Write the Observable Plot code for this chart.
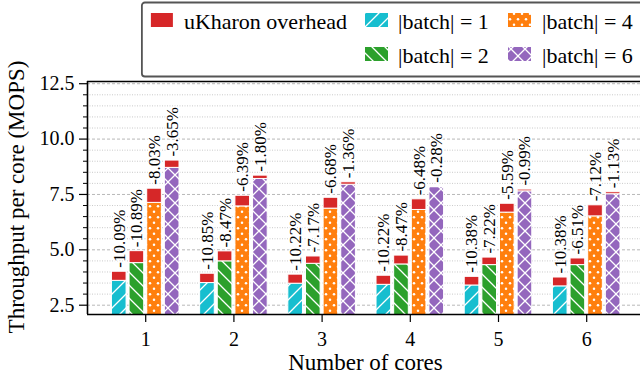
<!DOCTYPE html>
<html><head><meta charset="utf-8">
<script src="https://cdn.jsdelivr.net/npm/d3@7"></script>
<script src="https://cdn.jsdelivr.net/npm/@observablehq/plot@0.6"></script>
<style>
html,body{margin:0;padding:0;background:white;}
#wrap{position:relative;width:640px;height:381px;overflow:hidden;}
</style></head><body><div id="wrap"></div>
<script>
// ---- data ----
const cores = [1, 2, 3, 4, 5, 6];
const batchNames = ["|batch| = 1", "|batch| = 2", "|batch| = 4", "|batch| = 6"];
const batchColors = ["#17becf", "#2ca02c", "#ff7f0e", "#9467bd"];
const overheadName = "uKharon overhead";
const overheadColor = "#d62728";
// throughput without uKharon (top of red segment)
const nativeB1 = [4.01, 3.92, 3.88, 3.83, 3.78, 3.75];
const nativeB2 = [4.94, 4.93, 4.70, 4.74, 4.65, 4.61];
const nativeB4 = [7.76, 7.44, 7.35, 7.28, 7.08, 7.01];
const nativeB6 = [9.03, 8.35, 8.05, 7.85, 7.72, 7.60];
// throughput with uKharon (top of hatched bar)
const ukharonB1 = [3.60, 3.50, 3.47, 3.42, 3.39, 3.35];
const ukharonB2 = [4.40, 4.48, 4.37, 4.34, 4.31, 4.31];
const ukharonB4 = [7.12, 6.96, 6.86, 6.80, 6.68, 6.51];
const ukharonB6 = [8.70, 8.20, 7.94, 7.83, 7.64, 7.51];
// overhead labels
const dropB1 = ["-10.09%", "-10.85%", "-10.22%", "-10.22%", "-10.38%", "-10.38%"];
const dropB2 = ["-10.89%", "-8.47%", "-7.17%", "-8.47%", "-7.22%", "-6.51%"];
const dropB4 = ["-8.03%", "-6.39%", "-6.68%", "-6.48%", "-5.59%", "-7.12%"];
const dropB6 = ["-3.65%", "-1.80%", "-1.36%", "-0.28%", "-0.99%", "-1.13%"];
const yMajorTicks = [2.5, 5.0, 7.5, 10.0, 12.5];
const yMinorTicks = [3, 3.5, 4, 4.5, 5.5, 6, 6.5, 7, 8, 8.5, 9, 9.5, 10.5, 11, 11.5, 12];
const yTitle = "Throughput per core (MOPS)";
const xTitle = "Number of cores";

// ---- table ----
const natives = [nativeB1, nativeB2, nativeB4, nativeB6];
const ukharons = [ukharonB1, ukharonB2, ukharonB4, ukharonB6];
const drops = [dropB1, dropB2, dropB4, dropB6];
const rows = [];
batchNames.forEach((b, j) => cores.forEach((c, i) => rows.push({
  core: c, batch: b, j, native: natives[j][i], ukharon: ukharons[j][i], drop: drops[j][i]
})));
const slot = 0.2;
const xc = d => d.core + (d.j - 1.5) * slot;
const x1 = d => xc(d) - slot / 2;
const x2 = d => xc(d) + slot / 2;
const xDomain = [0.34, 6.61];
const yDomain = [2.08, 12.6];
const FONT = "'Liberation Serif', 'Times New Roman', serif";

const plot = Plot.plot({
  width: 640, height: 381,
  marginTop: 81, marginBottom: 67, marginLeft: 87, marginRight: 0,
  style: {fontFamily: FONT, fontSize: "20px", color: "black", background: "white"},
  x: {type: "linear", domain: xDomain},
  y: {domain: yDomain},
  marks: [
    Plot.gridY(yMinorTicks, {stroke: "#c4c4c4", strokeOpacity: 1, strokeDasharray: "1,1.5", strokeWidth: 0.9}),
    Plot.gridY(yMajorTicks, {stroke: "#b0b0b0", strokeOpacity: 1, strokeDasharray: "3,2", strokeWidth: 0.9}),
    ...batchNames.map((b, j) => Plot.rectY(rows.filter(d => d.j === j), {
      x1, x2, y1: 0, y2: "ukharon", fill: `url(#hatch${j})`, stroke: "white", strokeWidth: 1,
      insetLeft: 1.5, insetRight: 1.5, clip: true
    })),
    Plot.rectY(rows, {x1, x2, y1: "ukharon", y2: "native", fill: overheadColor, stroke: "white", strokeWidth: 1,
      insetLeft: 1.5, insetRight: 1.5}),
    Plot.text(rows, {x: xc, y: "native", text: "drop", rotate: -90, textAnchor: "start", dy: -4,
      fontSize: 17, fill: "black", stroke: "white", strokeWidth: 3, paintOrder: "stroke"}),
    Plot.axisY(yMajorTicks, {tickSize: 8, tickPadding: 5, tickFormat: d3.format(".1f"), fontSize: 20, label: null, strokeWidth: 1.2}),
    Plot.axisY(yMinorTicks, {tickSize: 4, tickFormat: () => "", label: null, strokeWidth: 1}),
    Plot.axisX(cores, {tickSize: 8, tickPadding: 9, fontSize: 20, label: null, strokeWidth: 1.2}),
    Plot.ruleX([xDomain[0]], {stroke: "black", strokeWidth: 1.6}),
    Plot.ruleY([yDomain[0]], {stroke: "black", strokeWidth: 1.6}),
    Plot.ruleY([yDomain[1]], {stroke: "black", strokeWidth: 1.6})
  ]
});

const defs = `
<pattern id="hatch0" patternUnits="userSpaceOnUse" width="14" height="14">
  <rect width="14" height="14" fill="${batchColors[0]}"/>
  <path d="M-2,2 L2,-2 M0,14 L14,0 M12,16 L16,12" stroke="white" stroke-width="1.3"/>
</pattern>
<pattern id="hatch1" patternUnits="userSpaceOnUse" width="13" height="13">
  <rect width="13" height="13" fill="${batchColors[1]}"/>
  <path d="M-2,11 L2,15 M0,0 L13,13 M11,-2 L15,2" stroke="white" stroke-width="1.3"/>
</pattern>
<pattern id="hatch2" patternUnits="userSpaceOnUse" width="8" height="11">
  <rect width="8" height="11" fill="${batchColors[2]}"/>
  <circle cx="2" cy="2.75" r="1.25" fill="white"/>
  <circle cx="6" cy="8.25" r="1.25" fill="white"/>
</pattern>
<pattern id="hatch3" patternUnits="userSpaceOnUse" width="14" height="14">
  <rect width="14" height="14" fill="${batchColors[3]}"/>
  <path d="M0,0 L14,14 M14,0 L0,14" stroke="white" stroke-width="1.3"/>
</pattern>`;
d3.select(plot).insert("defs", ":first-child").html(defs);

const svg = d3.select(plot);
svg.append("text").attr("transform", "translate(24,197) rotate(-90)").attr("text-anchor", "middle")
  .attr("font-size", 23).attr("fill", "black").text(yTitle);
svg.append("text").attr("x", 365.5).attr("y", 370).attr("text-anchor", "middle")
  .attr("font-size", 23).attr("fill", "black").text(xTitle);

const wrap = document.getElementById("wrap");
wrap.appendChild(plot);

// ---- legend ----
const leg = d3.select(wrap).append("svg").attr("width", 640).attr("height", 381)
  .style("position", "absolute").style("left", "0px").style("top", "0px")
  .style("font-family", FONT).style("pointer-events", "none");
const box = leg.append("rect").attr("y", 2.5).attr("width", 700).attr("height", 74).attr("rx", 3)
  .attr("fill", "white").attr("stroke", "#555").attr("stroke-width", 1.8);
const rowPatchY = [13, 47];
const rowTextY = [28.5, 62.5];
const items = [
  {name: overheadName, fill: overheadColor, col: 0, row: 0},
  {name: batchNames[0], fill: "url(#hatch0)", col: 1, row: 0},
  {name: batchNames[1], fill: "url(#hatch1)", col: 1, row: 1},
  {name: batchNames[2], fill: "url(#hatch2)", col: 2, row: 0},
  {name: batchNames[3], fill: "url(#hatch3)", col: 2, row: 1}
];
const colPatchX = [null, 365, 508];
const colTextX = [null, 398, 542];
let boxLeft = 139;
items.forEach(it => {
  if (it.col === 0) {
    const t = leg.append("text").attr("x", 347).attr("y", rowTextY[it.row]).attr("text-anchor", "end")
      .attr("font-size", 22).attr("fill", "black").text(it.name);
    const w = t.node().getComputedTextLength();
    const px = 347 - w - 11 - 22;
    leg.append("rect").attr("x", px).attr("y", rowPatchY[it.row]).attr("width", 22).attr("height", 14).attr("fill", it.fill);
    boxLeft = px - 9;
  } else {
    leg.append("rect").attr("x", colPatchX[it.col]).attr("y", rowPatchY[it.row]).attr("width", 23).attr("height", 14).attr("fill", it.fill);
    leg.append("text").attr("x", colTextX[it.col]).attr("y", rowTextY[it.row])
      .attr("font-size", 22).attr("fill", "black").text(it.name);
  }
});
box.attr("x", boxLeft);
</script></body></html>
